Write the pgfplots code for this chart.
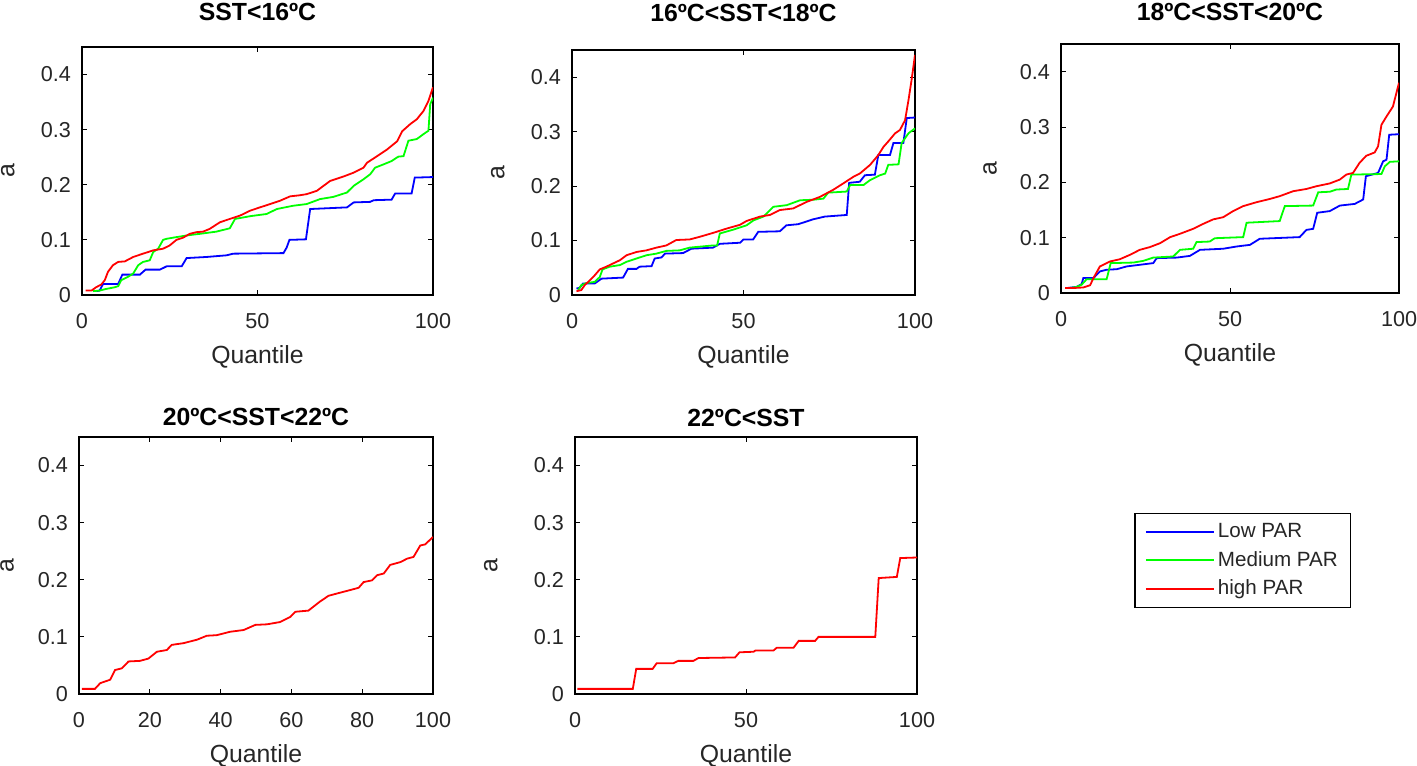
\documentclass[border=0pt]{standalone}
\usepackage{fontspec}
\setmainfont{Liberation Sans}
\usepackage{pgfplots}
\pgfplotsset{compat=1.18}
\definecolor{tickgray}{HTML}{262626}
\pgfplotsset{
  panel/.style={
    scale only axis, anchor=south west,
    xmin=0, xmax=100, ymin=0, ymax=0.45,
    xtick={0,50,100}, ytick={0,0.1,0.2,0.3,0.4},
    tick align=inside, major tick length=2.5pt,
    axis line style={black, line width=0.6pt},
    tick style={black, line width=0.5pt},
    ticklabel style={font=\fontsize{10.8}{12}\selectfont, text=tickgray},
    /pgf/number format/assume math mode=true,
    yticklabel style={/pgf/number format/fixed, xshift=-2pt},
    xticklabel style={yshift=-5.5pt},
    xlabel={Quantile}, ylabel={a},
    label style={font=\fontsize{12.4}{14}\selectfont, text=tickgray},
    xlabel style={at={(axis description cs:0.5,0)}, anchor=center, yshift=-31pt},
    title style={font=\bfseries\fontsize{12.4}{14}\selectfont, anchor=center, at={(axis description cs:0.5,1)}},
    every axis plot/.append style={line width=0.9pt, no markers},
  },
}
\begin{document}
\begin{tikzpicture}
\path[use as bounding box] (0,0) rectangle (708.5pt,382.5pt);

% Panel 1
\begin{axis}[panel, at={(41pt,235pt)}, width=175.5pt, height=124pt,
  title={SST<16ºC}, title style={yshift=11.5pt},
  ylabel style={at={(axis description cs:-0.211,0.5)}, anchor=center}]
\addplot[blue] coordinates {
(4.1,0.007)(5,0.008)(6,0.020)(10.3,0.020)(11.5,0.037)(16.5,0.037)(18.1,0.046)(22.2,0.046)(24.1,0.052)(28.4,0.052)(29.8,0.067)(35.5,0.069)(41.2,0.072)(43.1,0.075)(57.4,0.076)(58.3,0.086)(59.1,0.100)(63.8,0.101)(65,0.156)(75.5,0.159)(77.4,0.168)(82.1,0.169)(83.1,0.172)(88.2,0.173)(89.2,0.184)(93.9,0.184)(94.8,0.213)(100,0.214)};
\addplot[green] coordinates {
(3.1,0.007)(5,0.008)(6.9,0.011)(9.3,0.014)(10.3,0.016)(11.2,0.027)(13.1,0.033)(14.6,0.039)(16,0.054)(17.4,0.060)(19.3,0.063)(20.3,0.078)(21.7,0.084)(23.1,0.100)(24.1,0.102)(26.9,0.105)(29.8,0.108)(33.6,0.111)(38.3,0.115)(42.1,0.121)(43.6,0.138)(47.9,0.143)(52.6,0.147)(55.5,0.156)(60.2,0.162)(64,0.165)(67.8,0.174)(71.6,0.178)(75.5,0.186)(77.4,0.198)(80.2,0.210)(82.1,0.219)(83.5,0.231)(85.9,0.237)(88.2,0.243)(90.1,0.251)(91.6,0.252)(93,0.280)(95.4,0.283)(97.3,0.292)(98.7,0.298)(99.2,0.346)(100,0.358)};
\addplot[red] coordinates {
(1,0.008)(2.7,0.008)(4,0.014)(5.5,0.019)(6.5,0.027)(7.4,0.042)(8.8,0.054)(10.3,0.060)(12.2,0.061)(14.6,0.069)(17.4,0.075)(20.3,0.081)(23.1,0.084)(25,0.090)(26.9,0.100)(28.8,0.104)(30.7,0.111)(32.6,0.114)(34.5,0.115)(36.4,0.120)(39.3,0.132)(42.1,0.138)(45,0.144)(47.9,0.153)(50.7,0.159)(53.6,0.165)(56.4,0.171)(59.3,0.179)(62.1,0.181)(64,0.183)(66.9,0.189)(70.7,0.207)(74.5,0.215)(77.4,0.222)(80.2,0.231)(81.2,0.240)(84.1,0.252)(86.9,0.264)(89.8,0.279)(91.2,0.297)(93.5,0.310)(95.4,0.319)(97.3,0.334)(98.7,0.352)(100,0.377)};
\end{axis}

% Panel 2
\begin{axis}[panel, at={(286pt,235pt)}, width=171.5pt, height=122.5pt,
  title={16ºC<SST<18ºC}, title style={yshift=12.5pt},
  ylabel style={at={(axis description cs:-0.216,0.5)}, anchor=center}]
\addplot[blue] coordinates {
(1.3,0.012)(2.2,0.013)(3.2,0.021)(6.6,0.021)(8.6,0.030)(14.9,0.032)(16.3,0.048)(18.8,0.048)(19.7,0.052)(23.2,0.053)(24.1,0.067)(26.1,0.069)(27.1,0.076)(32.4,0.077)(34.8,0.085)(41.1,0.087)(43.1,0.094)(49,0.096)(50,0.102)(52.8,0.102)(54.3,0.116)(60.6,0.117)(62.5,0.128)(65.9,0.130)(67.9,0.134)(70.3,0.139)(73.7,0.144)(80.1,0.147)(80.8,0.206)(83.9,0.208)(85.4,0.220)(88.3,0.221)(89.3,0.257)(92.7,0.257)(93.7,0.279)(96.6,0.279)(97.6,0.325)(100,0.326)};
\addplot[green] coordinates {
(1.8,0.009)(2.7,0.018)(4.2,0.022)(6.6,0.024)(8.1,0.033)(8.9,0.047)(11,0.052)(14,0.055)(15.9,0.061)(18.8,0.067)(21.7,0.073)(24.6,0.076)(27.5,0.081)(31.4,0.082)(34.3,0.087)(41.1,0.091)(42.3,0.091)(43.1,0.113)(47,0.120)(50.9,0.128)(52.9,0.137)(55.8,0.144)(58.7,0.162)(62.6,0.165)(66.5,0.174)(70.4,0.175)(73.3,0.177)(74.7,0.188)(80.1,0.190)(81.1,0.202)(85,0.202)(86.9,0.211)(89.8,0.220)(91.3,0.223)(92.2,0.239)(95.2,0.240)(96.1,0.279)(98.1,0.297)(100,0.306)};
\addplot[red] coordinates {
(1.3,0.007)(2.7,0.009)(3.7,0.018)(5.2,0.027)(6.6,0.036)(8.1,0.047)(10,0.052)(12,0.058)(14,0.064)(15.9,0.073)(18.8,0.079)(21.7,0.082)(24.6,0.087)(27.5,0.091)(30.4,0.101)(34.3,0.102)(37.3,0.107)(41.1,0.114)(45.1,0.122)(49,0.129)(50.9,0.136)(54.8,0.144)(57.7,0.147)(60.6,0.156)(64.5,0.159)(68.4,0.171)(72.2,0.180)(76.1,0.193)(79.1,0.205)(82,0.217)(83.9,0.223)(86.9,0.239)(89.3,0.257)(90.8,0.272)(92.2,0.282)(94.2,0.297)(95.6,0.303)(97.1,0.321)(98.1,0.358)(99,0.395)(100,0.441)};
\end{axis}

% Panel 3 (carries the legend)
\begin{axis}[panel, at={(530.5pt,236pt)}, width=169pt, height=124.5pt,
  title={18ºC<SST<20ºC}, title style={yshift=10pt},
  ylabel style={at={(axis description cs:-0.21,0.5)}, anchor=center},
  legend image code/.code={\draw[#1, line width=1pt] (0pt,0pt) -- (34pt,0pt);},
  legend cell align=left,
  legend style={at={(axis description cs:0.538,-1.074)}, anchor=center, draw=black, line width=0.6pt,
    font=\fontsize{10.3}{12}\selectfont, text=tickgray, inner xsep=5pt, inner ysep=3.4pt,
    row sep=2.4pt,
    nodes={inner sep=1.5pt, text=tickgray}}]
\addplot[blue] coordinates {
(1.7,0.009)(4.6,0.011)(6.1,0.016)(6.6,0.027)(9.6,0.027)(11.5,0.039)(13.5,0.042)(16.5,0.043)(19.4,0.048)(23.3,0.051)(27.3,0.054)(28.3,0.063)(34.2,0.064)(38.1,0.067)(41.1,0.078)(48,0.080)(51.9,0.084)(55.9,0.087)(58.8,0.098)(70.6,0.101)(72.6,0.114)(74.6,0.116)(75.8,0.145)(79.5,0.148)(82.5,0.158)(86.9,0.161)(89.4,0.169)(90.2,0.211)(93.8,0.217)(95.3,0.238)(96.3,0.241)(97.1,0.286)(100,0.287)};
\addlegendentry{Low PAR}
\addplot[green] coordinates {
(2.7,0.009)(4.6,0.011)(6.1,0.015)(7.6,0.025)(13.5,0.025)(14.7,0.054)(21.4,0.055)(24.3,0.058)(27.3,0.064)(33.2,0.066)(35.2,0.078)(39.1,0.080)(40.1,0.092)(44,0.093)(45.5,0.099)(53.9,0.101)(54.9,0.127)(64.7,0.130)(66.2,0.157)(74.6,0.158)(76.1,0.182)(79.5,0.183)(81.5,0.187)(84.9,0.188)(85.9,0.214)(94.8,0.215)(95.8,0.229)(97.3,0.237)(100,0.238)};
\addlegendentry{Medium PAR}
\addplot[red] coordinates {
(1.2,0.009)(3.6,0.009)(6.6,0.010)(8.6,0.014)(9.6,0.027)(11.5,0.048)(14.5,0.057)(17.4,0.061)(20.4,0.069)(23.3,0.078)(26.3,0.083)(29.3,0.090)(32.3,0.101)(35.2,0.107)(39.1,0.116)(42.1,0.125)(45,0.133)(48,0.137)(50.9,0.148)(53.9,0.157)(57.8,0.164)(61.8,0.170)(64.7,0.175)(68.7,0.184)(72.6,0.188)(75.6,0.193)(79.5,0.198)(82.5,0.205)(84.4,0.214)(86.4,0.217)(88.3,0.235)(90.3,0.248)(92.8,0.254)(93.8,0.265)(94.8,0.304)(96.3,0.319)(98.2,0.337)(100,0.380)};
\addlegendentry{high PAR}
\end{axis}

% Panel 4
\begin{axis}[panel, at={(39.5pt,35.5pt)}, width=177pt, height=128.5pt,
  xtick={0,20,40,60,80,100},
  title={20ºC<SST<22ºC}, title style={yshift=4pt},
  ylabel style={at={(axis description cs:-0.203,0.5)}, anchor=center}]
\addplot[red] coordinates {
(0.8,0.009)(4.5,0.009)(6,0.019)(7.4,0.022)(8.8,0.025)(10.2,0.042)(12.1,0.045)(14,0.057)(17.2,0.058)(19.6,0.062)(22,0.074)(24.8,0.077)(26.2,0.086)(29.5,0.089)(33.3,0.095)(36.1,0.102)(38.9,0.103)(42.7,0.109)(46.5,0.112)(49.8,0.121)(53.1,0.122)(56.8,0.126)(59.7,0.135)(61.1,0.144)(64.8,0.146)(68.1,0.162)(70.5,0.172)(72.9,0.176)(76.6,0.182)(79,0.186)(80.4,0.196)(82.8,0.199)(84.2,0.208)(86.1,0.211)(87.9,0.226)(90.8,0.231)(92.7,0.237)(94.5,0.240)(96.4,0.260)(97.8,0.262)(100,0.275)};
\end{axis}

% Panel 5
\begin{axis}[panel, at={(287.5pt,35.5pt)}, width=171pt, height=128.5pt,
  title={22ºC<SST}, title style={yshift=3.5pt},
  ylabel style={at={(axis description cs:-0.246,0.5)}, anchor=center}]
\addplot[red] coordinates {
(0.7,0.009)(16.9,0.009)(17.9,0.044)(22.7,0.044)(23.9,0.054)(28.8,0.054)(30.2,0.058)(34.6,0.058)(36.1,0.063)(46.8,0.064)(48.1,0.073)(52.2,0.074)(52.7,0.076)(58,0.076)(59,0.081)(63.9,0.081)(65.4,0.093)(70.2,0.093)(71.2,0.100)(87.8,0.100)(88.8,0.203)(94.1,0.205)(95.1,0.238)(100,0.239)};
\end{axis}
\end{tikzpicture}
\end{document}
